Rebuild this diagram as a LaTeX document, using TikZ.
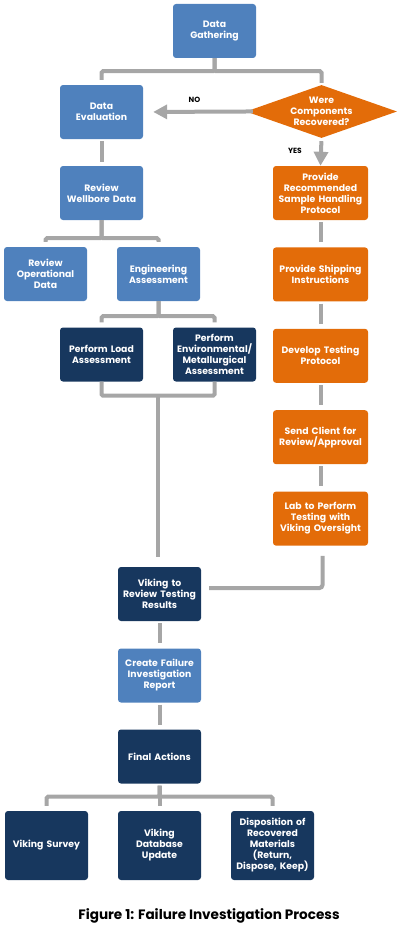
\documentclass[tikz,border=0pt]{standalone}
\usepackage{fontspec}
\setmainfont{Poppins}
\usepackage{xcolor}
\usepackage{tikz}
\usetikzlibrary{calc,arrows.meta,positioning,shapes.geometric}

\definecolor{vkblue}{HTML}{4F81BD}
\definecolor{vknavy}{HTML}{17375E}
\definecolor{vkorange}{HTML}{E36C09}
\definecolor{vkgray}{HTML}{A6A6A6}

\begin{document}
\begin{tikzpicture}[x=1pt, y=-1pt,
        box/.style={rounded corners=3pt, minimum width=83pt, minimum height=54pt, inner sep=1pt,
            text width=81pt, align=center, text=white, font=\fontsize{9.3}{11}\selectfont\bfseries},
        bluebox/.style={box, fill=vkblue},
        navybox/.style={box, fill=vknavy},
        orangebox/.style={box, fill=vkorange, minimum width=95pt, text width=93pt},
        decision/.style={diamond, fill=vkorange, aspect=2.85, inner sep=-4pt, minimum width=151pt,
            minimum height=53pt, align=center, text=white, font=\fontsize{9.3}{11}\selectfont\bfseries},
        conn/.style={draw=vkgray, line width=4pt, rounded corners=1.5pt},
        flow/.style={conn, -{Triangle[length=14pt, width=14pt]}},
        answer/.style={font=\fontsize{7.5}{8}\selectfont\bfseries}
    ]
        \useasboundingbox (0,0) rectangle (406,934);

        \node[bluebox] (gather) at (214.5,31) {Data\\Gathering};
        \node[bluebox] (evaluate) at (101.5,112) {Data\\Evaluation};
        \node[decision] (recovered) at (321.5,111.5) {Were\\Components\\Recovered?};
        \node[bluebox] (wellbore) at (101.5,193) {Review\\Wellbore Data};
        \node[bluebox] (operational) at (45.5,274) {Review\\Operational\\Data};
        \node[bluebox] (engineering) at (158.5,274) {Engineering\\Assessment};
        \node[navybox] (load) at (101.5,354.5) {Perform Load\\Assessment};
        \node[navybox] (environ) at (214.5,354.5) {Perform\\Environmental/\\Metallurgical\\Assessment};

        \node[orangebox] (handling) at (320.5,193) {Provide\\Recommended\\Sample Handling\\Protocol};
        \node[orangebox, below=27pt of handling] (shipping) {Provide Shipping\\Instructions};
        \node[orangebox, below=27pt of shipping] (protocol) {Develop Testing\\Protocol};
        \node[orangebox, below=27pt of protocol] (approval) {Send Client for\\Review/Approval};
        \node[orangebox, below=27pt of approval] (lab) {Lab to Perform\\Testing with\\Viking Oversight};

        \node[navybox] (results) at (159.5,594) {Viking to\\Review Testing\\Results};
        \node[bluebox] (report) at (159.5,675.5) {Create Failure\\Investigation\\Report};
        \node[navybox] (final) at (159.5,756.5) {Final Actions};
        \node[navybox, minimum height=69pt] (survey) at (46.5,845.5) {Viking Survey};
        \node[navybox, minimum height=69pt] (database) at (159.5,845.5) {Viking\\Database\\Update};
        \node[navybox, minimum height=69pt] (disposition) at (272.5,845.5) {Disposition of\\Recovered\\Materials\\(Return,\\Dispose, Keep)};

        \node[font=\fontsize{13.6}{16}\selectfont\bfseries] (caption) at (209,916) {Figure 1: Failure Investigation Process};

        \draw[conn, shorten >=5pt] (gather.south) -- ++(0,13) -| (evaluate.north);
        \draw[conn, shorten >=2pt] (gather.south) -- ++(0,13) -| (recovered.north);
        \draw[flow, shorten <=-7pt, shorten >=10pt] (recovered.west) -- node[answer, above=4pt, black] {NO} (evaluate.east);
        \draw[flow, shorten <=3pt] (recovered.south) -- node[answer, left=14pt, black, pos=0.45] {YES} (handling.north);
        \draw[conn, shorten <=2pt, shorten >=4pt] (evaluate) -- (wellbore);

        \draw[conn, shorten >=5pt] (wellbore.south) -- ++(0,18) -| (operational.north);
        \draw[conn, shorten >=5pt] (wellbore.south) -- ++(0,18) -| (engineering.north);
        \draw[conn, shorten >=5pt] (engineering.south) -- ++(0,15) -| (load.north);
        \draw[conn, shorten >=5pt] (engineering.south) -- ++(0,15) -| (environ.north);
        \draw[conn] (load.south) -- ++(0,14) -| (environ.south);
        \coordinate (merge) at ($(load.south)!0.5!(environ.south)+(0,14)$);
        \draw[conn, shorten >=10pt] (merge) -- (merge |- results.north);

        \draw[conn, shorten <=2pt, shorten >=5pt] (handling) -- (shipping);
        \draw[conn, shorten <=2pt, shorten >=5pt] (shipping) -- (protocol);
        \draw[conn, shorten <=2pt, shorten >=5pt] (protocol) -- (approval);
        \draw[conn, shorten <=2pt, shorten >=5pt] (approval) -- (lab);
        \draw[conn, rounded corners=3pt, shorten <=10pt, shorten >=8pt] ([xshift=2pt]lab.south) |- ([yshift=6pt]results.east);

        \draw[conn, shorten <=2pt, shorten >=5pt] (results) -- (report);
        \draw[conn, shorten <=2pt, shorten >=4pt] (report) -- (final);
        \draw[conn, shorten <=2pt, shorten >=5pt] (final.south) -- ++(0,13) -| (survey.north);
        \draw[conn, shorten <=2pt, shorten >=5pt] (final.south) -- ++(0,13) -| (database.north);
        \draw[conn, shorten <=2pt, shorten >=5pt] (final.south) -- ++(0,13) -| (disposition.north);
    \end{tikzpicture}
\end{document}
